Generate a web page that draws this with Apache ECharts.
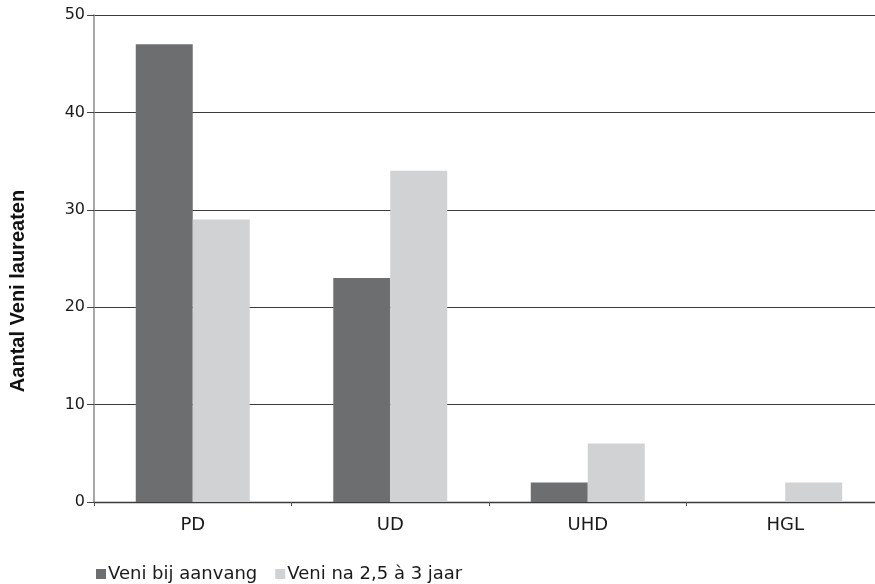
<!DOCTYPE html>
<html>
<head>
<meta charset="utf-8">
<script src="https://cdn.jsdelivr.net/npm/echarts@6/dist/echarts.min.js"></script>
<style>html,body{margin:0;padding:0;background:#fff}#c{width:875px;height:584px}</style>
</head>
<body>
<div id="c"></div>
<script>
const categories = ['PD', 'UD', 'UHD', 'HGL'];
const seriesNames = ['Veni bij aanvang', 'Veni na 2,5 à 3 jaar'];
const veniBijAanvang = [47, 23, 2, 0];
const veniNa3Jaar = [29, 34, 6, 2];
const yTicks = [0, 10, 20, 30, 40, 50];
const yTitle = 'Aantal Veni laureaten';

const chart = echarts.init(document.getElementById('c'), null, {renderer: 'canvas'});
const font = '"DejaVu Sans", "Open Sans", sans-serif';
chart.setOption({
  animation: false,
  backgroundColor: '#ffffff',
  grid: {left: 94, top: 15, right: -9, bottom: 82, containLabel: false, outerBoundsMode: 'none'},
  legend: {
    left: 91, top: 560, itemWidth: 10, itemHeight: 10, itemGap: 18,
    icon: 'rect',
    textStyle: {fontFamily: font, fontSize: 18, color: '#1a1a1a', padding: [2, 0, 0, -3]},
    data: seriesNames
  },
  graphic: [{
    type: 'text', x: 18, y: 291, rotation: Math.PI / 2,
    style: {text: yTitle, font: 'bold 20px "Liberation Sans", Arial, sans-serif', fill: '#111', align: 'center', verticalAlign: 'middle'}
  }],
  xAxis: {
    type: 'category', data: categories,
    axisLine: {lineStyle: {color: '#3a3a3a', width: 1.3}},
    axisTick: {show: true, length: 4, lineStyle: {color: '#555'}},
    axisLabel: {fontFamily: font, fontSize: 18, color: '#1a1a1a', margin: 14}
  },
  yAxis: {
    type: 'value', min: yTicks[0], max: yTicks[yTicks.length - 1], interval: 10,
    axisLine: {show: true, lineStyle: {color: '#8a8a8a', width: 1.5}},
    axisTick: {show: true, length: 7, lineStyle: {color: '#444'}},
    axisLabel: {fontFamily: font, fontSize: 16, color: '#1a1a1a', margin: 9},
    splitLine: {lineStyle: {color: '#3a3a3a', width: 1}}
  },
  series: [
    {name: seriesNames[0], type: 'bar', data: veniBijAanvang, itemStyle: {color: '#6d6e70'}, barGap: '0%', barCategoryGap: '42.3%'},
    {name: seriesNames[1], type: 'bar', data: veniNa3Jaar, itemStyle: {color: '#d1d2d4'}, barGap: '0%', barCategoryGap: '42.3%'}
  ]
});
</script>
</body>
</html>
